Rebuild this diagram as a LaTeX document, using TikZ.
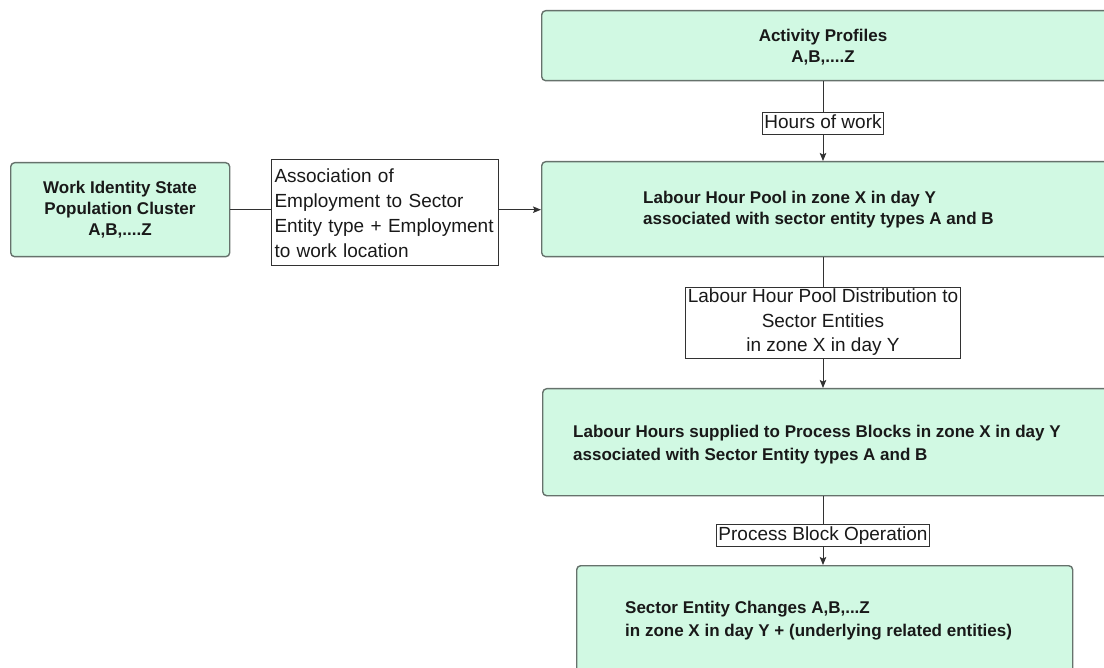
\documentclass[tikz,border=0pt]{standalone}
\usepackage{fontspec}
\setmainfont{Liberation Sans}
\usetikzlibrary{arrows.meta}
\definecolor{mint}{RGB}{209,249,227}
\definecolor{edge}{RGB}{102,114,108}
\definecolor{ink}{RGB}{25,25,25}
\definecolor{wire}{RGB}{50,50,50}
\tikzset{
  panel/.style={draw=edge, line width=1.4pt, fill=mint, rounded corners=4pt,
    inner sep=0pt, anchor=north west},
  heading/.style={font=\fontsize{17}{21}\selectfont\bfseries, text=ink,
    inner sep=0pt, align=center},
  tag/.style={draw=wire, line width=0.9pt, fill=white,
    font=\fontsize{19}{24.5}\selectfont, text=ink,
    inner xsep=2pt, inner ysep=1pt, text height=15pt, text depth=5pt},
  flow/.style={draw=wire, line width=1pt,
    -{Stealth[length=8pt,width=6.5pt,inset=1.5pt]}},
}
\begin{document}
\begin{tikzpicture}[x=1pt,y=-1pt]
\useasboundingbox (0,0) rectangle (1104,668);
\clip (0,0) rectangle (1104,668);
\coordinate (spine) at (823,0);

% green panels
\node[panel, minimum width=600pt, minimum height=70pt]  (act)    at (541,10)  {};
\node[panel, minimum width=600pt, minimum height=95pt]  (pool)   at (541,161) {};
\node[panel, minimum width=219pt, minimum height=94pt]  (work)   at (10,162)  {};
\node[panel, minimum width=600pt, minimum height=107pt] (supply) at (542,388) {};
\node[panel, minimum width=496pt, minimum height=140pt] (change) at (576,565) {};

% panel captions
\node[heading] (actT)  at (823,47)  {Activity Profiles\\A,B,....Z};
\node[heading, align=left, anchor=west] (poolT) at (643,210)
  {Labour Hour Pool in zone X in day Y\\associated with sector entity types A and B};
\node[heading] (workT) at (120,210) {Work Identity State\\Population Cluster\\A,B,....Z};
\node[heading, align=left, anchor=west, font=\fontsize{17}{23}\selectfont\bfseries] (supplyT) at (573,445)
  {Labour Hours supplied to Process Blocks in zone X in day Y\\associated with Sector Entity types A and B};
\node[heading, align=left, anchor=west, font=\fontsize{17}{23}\selectfont\bfseries] (changeT) at (625,621)
  {Sector Entity Changes A,B,...Z\\in zone X in day Y + (underlying related entities)};

% connectors
\draw[flow] (act.south -| spine) -- (pool.north -| spine);
\draw[flow] (pool.south -| spine) -- (supply.north -| spine);
\draw[flow] (supply.south -| spine) -- (change.north -| spine);
\draw[flow] (work.east) -- (work.east -| pool.west);

% connector labels
\node[tag] (hours) at (823,123.5) {Hours of work};
\node[tag, align=center, text height=64pt, text depth=5pt] (dist) at (823,322.5)
  {Labour Hour Pool Distribution to\\Sector Entities\\in zone X in day Y};
\node[tag] (op) at (823,535.5) {Process Block Operation};
\node[tag, align=left, text width=220pt, inner xsep=3.5pt, inner ysep=7pt,
  text height=17pt, text depth=75pt, font=\fontsize{19}{25}\selectfont] (assoc) at (384.5,212)
  {Association of\\Employment to Sector\\Entity type + Employment\\to work location};
\end{tikzpicture}
\end{document}
